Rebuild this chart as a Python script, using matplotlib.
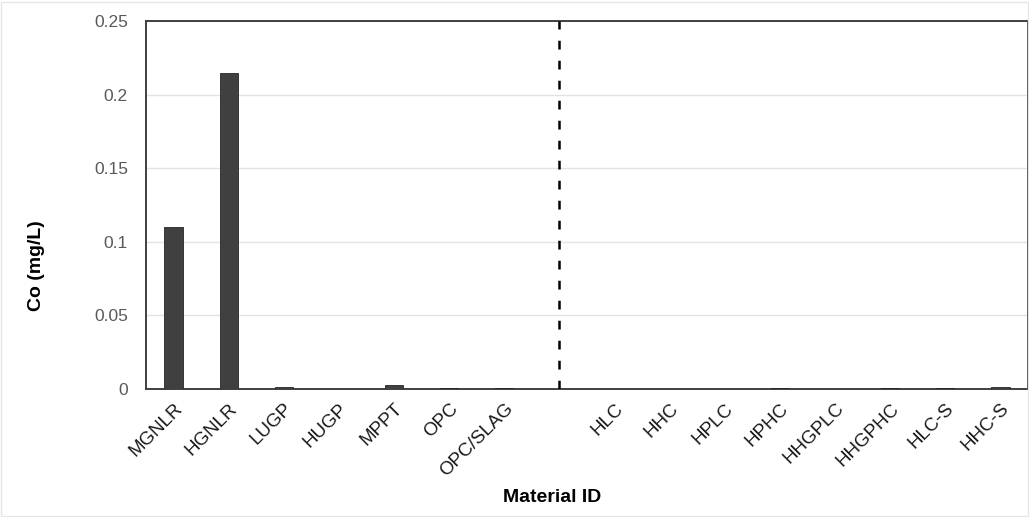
import matplotlib
matplotlib.use('Agg')
import matplotlib.pyplot as plt
import numpy as np

plt.rcParams['font.family'] = ['Liberation Sans', 'DejaVu Sans']

# %% data
materials = ['MGNLR', 'HGNLR', 'LUGP', 'HUGP', 'MPPT', 'OPC', 'OPC/SLAG', '',
             'HLC', 'HHC', 'HPLC', 'HPHC', 'HHGPLC', 'HHGPHC', 'HLC-S', 'HHC-S']
co = [0.11, 0.215, 0.0012, 0.0003, 0.0025, 0.0004, 0.0004, np.nan,
      0.0003, 0.0003, 0.0003, 0.0005, 0.0003, 0.0005, 0.0005, 0.0012]
yticks = [0, 0.05, 0.1, 0.15, 0.2, 0.25]
ytick_labels = ['0', '0.05', '0.1', '0.15', '0.2', '0.25']

# %% plot
fig = plt.figure(figsize=(10.29, 5.17), dpi=100)
ax = fig.add_axes([146/1029, 1 - 389/517, (1028-146)/1029, (389-21)/517])

x = np.arange(len(materials))
ax.bar(x, co, width=0.33, color='#404040', edgecolor='#262626', linewidth=0.6, zorder=3)

# separator between the two material groups
ax.axvline(materials.index(''), color='black', linestyle=(0, (3.5, 4.5)), linewidth=1.8, zorder=4)

ax.set_xlim(-0.5, len(materials) - 0.5)
ax.set_ylim(0, 0.25)
ax.set_yticks(yticks)
ax.set_yticklabels(ytick_labels)
ax.set_xticks(x)
ax.set_xticklabels(materials, rotation=45, ha='right', rotation_mode='anchor')
ax.tick_params(axis='y', length=0, labelsize=12.5, labelcolor='#595959', pad=13)
ax.tick_params(axis='x', length=0, labelsize=13.5, labelcolor='#1a1a1a', pad=8)

ax.grid(axis='y', color='#e3e3e3', linewidth=1, zorder=0)
for s in ax.spines.values():
    s.set_color('#404040')
    s.set_linewidth(1.4)

ax.set_ylabel('Co (mg/L)', fontsize=14, fontweight='bold', va='center')
ax.yaxis.set_label_coords(-0.124, 0.334)
ax.set_xlabel('Material ID', fontsize=14, fontweight='bold', va='center')
ax.xaxis.set_label_coords(0.461, -0.296)

# faint figure border
fig.patches.append(plt.Rectangle((0.001, 0.001), 0.998, 0.996, transform=fig.transFigure,
                                 fill=False, edgecolor='#e6e6e6', linewidth=1))

plt.savefig('out.png', dpi=100)
